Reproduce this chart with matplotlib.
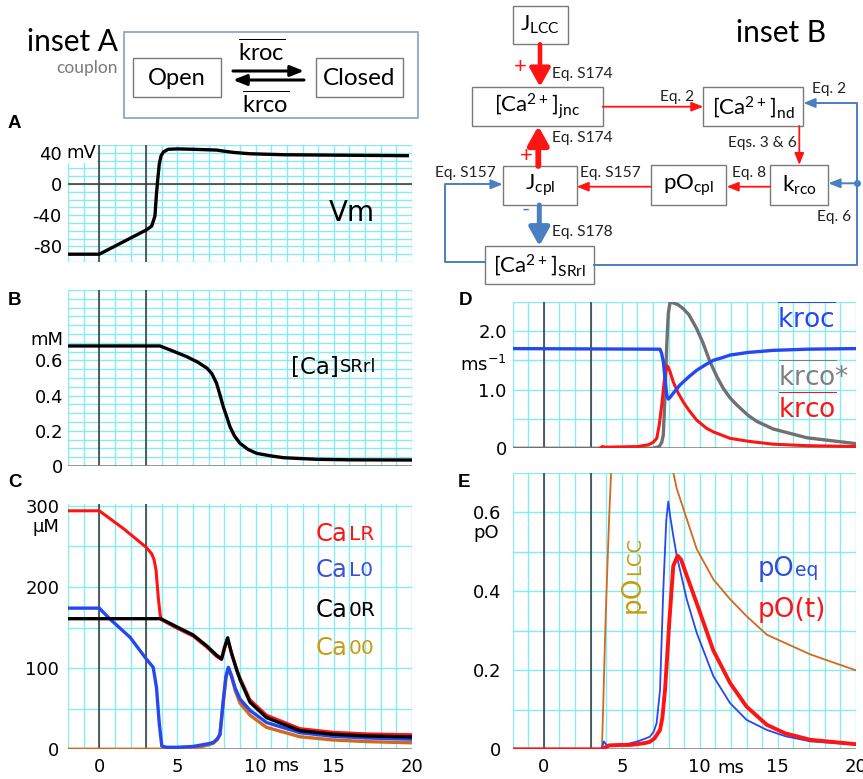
import numpy as np
import matplotlib
matplotlib.use("Agg")
import matplotlib.pyplot as plt
from matplotlib.transforms import blended_transform_factory

# ---------------- data ----------------
t_vm = [-2, 0, 1, 2, 3, 3.35, 3.56, 3.66, 3.75, 3.84, 3.95, 4.1, 4.4, 5.0, 6.0, 7.5, 8.0, 8.6, 9.6, 11.8, 15.0, 19.7]
vm = [-90, -90, -79.7, -69.3, -59, -54, -41, -12, 8, 26, 36, 41, 44.5, 45, 44.5, 43.5, 42, 40.5, 38.8, 37.5, 37, 36.3]

t_sr = [-2, 3.88, 4.8, 5.6, 6.3, 6.9, 7.2, 7.5, 7.7, 7.93, 8.15, 8.36, 8.65, 9.0, 9.5, 10.06, 11.0, 11.8, 13.9, 16, 20]
ca_srrl = [0.682, 0.682, 0.65, 0.621, 0.59, 0.555, 0.525, 0.47, 0.41, 0.337, 0.28, 0.223, 0.17, 0.129, 0.095,
           0.072, 0.057, 0.047, 0.038, 0.035, 0.034]

t_lr = [-2, 0, 1.55, 3.0, 3.35, 3.5, 3.63, 3.77, 3.88, 3.94, 5.0, 6.0, 6.9, 7.5, 7.82, 8.0, 8.2, 8.46, 8.8,
        9.0, 9.64, 10.7, 12.83, 14.96, 17.1, 20]
ca_lr = [294, 294, 272, 249, 241, 234, 221, 188, 168, 160, 149, 139.5, 125.5, 114.5, 110.5, 123, 136, 119, 98,
         88, 61, 42, 25.5, 21, 19, 18]

t_0r = [-2, 3.94, 5.0, 6.0, 6.9, 7.5, 7.82, 8.0, 8.21, 8.46, 8.8, 9.0, 9.64, 10.7, 12.83, 14.96, 17.1, 20]
ca_0r = [161, 161, 150.5, 141, 127, 116, 111.5, 125, 137.5, 118, 97, 86, 58, 39, 23, 18.5, 16.5, 15.2]

t_l0 = [-2, 0, 0.66, 1.97, 3.0, 3.45, 3.66, 3.84, 4.0, 4.3, 5.0, 6.0, 6.44, 7.0, 7.3, 7.55, 7.72, 7.93, 8.1,
        8.25, 8.45, 8.7, 9.0, 9.64, 10.7, 12.83, 14.96, 17.1, 20]
ca_l0 = [174, 174, 161, 138, 111.5, 101, 76, 31, 4, 2.5, 2.5, 3.5, 5, 7, 8.5, 13, 18.6, 60, 90, 101, 91, 75,
         62, 48, 33, 20.5, 16, 14, 12.4]

t_00 = [-2, 3.9, 4.3, 5.0, 6.0, 6.44, 7.0, 7.3, 7.55, 7.72, 7.93, 8.1, 8.28, 8.45, 8.7, 9.0, 9.64, 10.7,
        12.83, 14.96, 17.1, 20]
ca_00 = [0, 0, 0.5, 1, 2, 3, 5.5, 7.5, 12, 18, 58, 88, 100, 90, 72, 57, 42, 27, 15.5, 11.5, 9.5, 8]

t_kroc = [-2, 7.45, 7.55, 7.66, 7.77, 7.88, 7.98, 8.1, 8.3, 8.73, 9.3, 9.8, 10.4, 10.87, 11.5, 11.94, 13.11,
          14.7, 16.86, 20]
kroc = [1.70, 1.69, 1.62, 1.48, 1.2, 0.9, 0.84, 0.87, 0.94, 1.08, 1.22, 1.33, 1.43, 1.50, 1.55, 1.59, 1.635,
        1.67, 1.69, 1.70]

t_krs = [-2, 7.0, 7.4, 7.56, 7.66, 7.77, 7.88, 7.98, 8.09, 8.3, 8.6, 8.94, 9.3, 9.8, 10.2, 10.65, 11.1, 11.51,
         11.94, 12.37, 13.11, 13.65, 14.7, 16.86, 20]
krco_star = [0, 0, 0.03, 0.1, 0.23, 0.91, 1.76, 2.3, 2.49, 2.48, 2.45, 2.38, 2.28, 2.04, 1.8, 1.48, 1.22, 1.02,
             0.86, 0.74, 0.56, 0.46, 0.33, 0.18, 0.08]

t_krco = [3.6, 3.75, 3.9, 4.2, 6.0, 6.7, 7.0, 7.24, 7.4, 7.56, 7.72, 7.88, 7.98, 8.1, 8.3, 8.6, 8.94, 9.3,
          9.8, 10.44, 10.87, 11.94, 13.11, 14.7, 16.86, 20]
krco = [0, 0.03, 0.02, 0.02, 0.03, 0.06, 0.1, 0.17, 0.4, 0.74, 1.15, 1.41, 1.38, 1.3, 1.13, 0.95, 0.79, 0.65,
        0.48, 0.34, 0.28, 0.17, 0.12, 0.07, 0.045, 0.03]

t_lcc = [-2, 3.72, 3.8, 3.9, 4.0, 4.2, 4.4, 5, 6, 7, 8, 8.3, 8.52, 9.8, 10.87, 11.94, 13.0, 14.3, 17.1, 20]
po_lcc = [0, 0, 0.1, 0.25, 0.38, 0.6, 0.78, 1.1, 1.2, 1.0, 0.78, 0.7, 0.66, 0.507, 0.43, 0.38, 0.337, 0.29,
          0.24, 0.2]

t_eq = [-2, 3.7, 3.85, 4.0, 4.2, 5.0, 5.52, 6.0, 6.5, 6.8, 7.05, 7.23, 7.45, 7.66, 7.85, 7.98, 8.1, 8.3, 8.52,
        9.16, 9.8, 10.87, 11.94, 13.0, 14.3, 15.5, 17.1, 20]
po_eq = [0, 0, 0.02, 0.012, 0.01, 0.012, 0.015, 0.02, 0.027, 0.032, 0.045, 0.066, 0.15, 0.405, 0.58, 0.627,
         0.59, 0.54, 0.49, 0.38, 0.295, 0.185, 0.117, 0.0745, 0.049, 0.033, 0.02, 0.012]

t_pot = [-2, 3.7, 4.2, 5.0, 5.52, 6.0, 6.5, 6.8, 7.1, 7.45, 7.6, 7.77, 7.9, 8.04, 8.3, 8.58, 8.8, 9.16, 9.8,
         10.87, 11.94, 13.0, 14.3, 15.5, 17.1, 20]
po_t = [0, 0, 0.01, 0.011, 0.011, 0.013, 0.016, 0.019, 0.028, 0.049, 0.08, 0.15, 0.23, 0.32, 0.464, 0.49, 0.48,
        0.44, 0.37, 0.25, 0.168, 0.108, 0.062, 0.04, 0.024, 0.013]

x_ticks = [0, 5, 10, 15, 20]
x_ticklabels = ['0', '5', '10', '15', '20']
stim_lines = [0, 3]

# ---------------- style ----------------
W, H = 863, 779
CYAN = '#86ecf2'
RED = '#ff1414'
BLUE = '#2548f2'
GRAY = '#707070'
GOLD = '#c89b10'
ORANGE = '#d2691e'
IBLUE = '#4a7fc1'
BOXC = '#7a7a7a'
IFONT = ['Lato', 'DejaVu Sans']
TFS = 13

fig = plt.figure(figsize=(W / 100, H / 100), dpi=100)


def axes_px(x0, y0, x1, y1):
    return fig.add_axes([x0 / W, 1 - y1 / H, (x1 - x0) / W, (y1 - y0) / H])


def setup(ax, ylim, ystep, yt, ylab, pad, xlabels=False, bottom_line=True):
    ax.set_xlim(-2, 20)
    ax.set_ylim(*ylim)
    for s in ax.spines.values():
        s.set_visible(False)
    for xv in np.arange(-2, 20.5, 1):
        ax.axvline(xv, color=CYAN, lw=1.0, zorder=0)
    for yv in np.arange(ylim[0], ylim[1] + ystep * 0.5, ystep):
        ax.axhline(yv, color=CYAN, lw=1.0, zorder=0)
    for xv in stim_lines:
        ax.axvline(xv, color='#333333', lw=1.1, zorder=1)
    if bottom_line:
        ax.axhline(ylim[0], color='#7a7a7a', lw=1.8, zorder=1)
    ax.set_yticks(yt, ylab)
    ax.tick_params(axis='y', length=0, labelsize=TFS, pad=pad)
    if xlabels:
        ax.set_xticks(x_ticks, x_ticklabels)
        ax.tick_params(axis='x', length=0, labelsize=TFS, pad=6)
        tr = blended_transform_factory(ax.transData, ax.transAxes)
        ax.text(11.1, -0.068, 'ms', transform=tr, fontsize=TFS, ha='left', va='center')
    else:
        ax.set_xticks([])


def lab2(ax, x, y, big, small, color, bs, ss, transform=None):
    t1 = ax.text(x, y, big, color=color, fontsize=bs, ha='left', va='baseline',
                 transform=transform if transform is not None else ax.transAxes)
    ax.annotate(small, xy=(1, 0), xycoords=t1, xytext=(0.5, 1.3), textcoords='offset points',
                color=color, fontsize=ss, ha='left', va='bottom')
    return t1


# Panel A
axA = axes_px(68, 145, 412, 262)
setup(axA, (-100, 50), 10, [40, 0, -40, -80], ['40', '0', '-40', '-80'], 4.5, bottom_line=False)
axA.axhline(0, color='#333333', lw=1.1, zorder=1)
axA.plot(t_vm, vm, color='black', lw=2.4, zorder=3)

# Panel B
axB = axes_px(68, 290, 412, 466)
setup(axB, (0, 1.0), 0.05, [0, 0.2, 0.4, 0.6], ['0', '0.2', '0.4', '0.6'], 3.5)
axB.plot(t_sr, ca_srrl, color='black', lw=2.4, zorder=3)

# Panel C
axC = axes_px(68, 504.3, 412, 749.3)
setup(axC, (0, 302), 50, [0, 100, 200, 300], ['0', '100', '200', '300'], 6.3, xlabels=True)
axC.plot(t_00, ca_00, color=ORANGE, lw=2.4, zorder=3)
axC.plot(t_l0, ca_l0, color=BLUE, lw=2.4, zorder=4)
axC.plot(t_0r, ca_0r, color='black', lw=2.4, zorder=5)
axC.plot(t_lr, ca_lr, color=RED, lw=2.2, zorder=4.5)

# Panel D
axD = axes_px(512.7, 301.7, 855.7, 448.3)
setup(axD, (0, 2.5), 0.5, [0, 1.0, 2.0], ['0', '1.0', '2.0'], 4.3)
axD.plot(t_krs, krco_star, color=GRAY, lw=2.4, zorder=3)
axD.plot(t_krco, krco, color=RED, lw=2.2, zorder=4)
axD.plot(t_kroc, kroc, color=BLUE, lw=2.4, zorder=5)

# Panel E
axE = axes_px(512.7, 472.7, 855.7, 749.3)
setup(axE, (0, 0.7), 0.1, [0, 0.2, 0.4, 0.6], ['0', '0.2', '0.4', '0.6'], 8, xlabels=True)
axE.plot(t_lcc, po_lcc, color=ORANGE, lw=1.3, zorder=3)
axE.plot(t_eq, po_eq, color=BLUE, lw=1.3, zorder=4)
axE.plot(t_pot, po_t, color=RED, lw=2.8, zorder=5)

# ---------------- overlay (pixel coordinates) ----------------
ov = fig.add_axes([0, 0, 1, 1], zorder=20)
ov.set_xlim(0, W)
ov.set_ylim(H, 0)
ov.axis('off')
ov.patch.set_alpha(0)

# panel letters
for L, (x, y) in {'A': (8, 123), 'B': (8, 300), 'C': (8, 482), 'D': (459, 300), 'E': (458, 482)}.items():
    ov.text(x, y, L, fontsize=13.5, fontweight='bold', family='Liberation Sans', ha='left', va='center')

# unit labels
ov.text(66, 153, 'mV', fontsize=TFS, ha='left', va='center',
        bbox=dict(facecolor='white', edgecolor='none', pad=1.0))
ov.text(63, 340, 'mM', fontsize=TFS, ha='right', va='center')
ov.text(59.5, 527, 'µM', fontsize=TFS, ha='right', va='center')
ov.text(506.5, 365, r'$\mathregular{ms^{-1}}$', fontsize=TFS, ha='right', va='center')
ov.text(498.5, 533.5, 'pO', fontsize=TFS, ha='right', va='center')

# in-panel labels
ov.text(329, 213, 'Vm', fontsize=20, ha='left', va='center')
tca = ov.text(291, 373.5, '[Ca]', fontsize=16.5, ha='left', va='baseline')
ov.annotate('SRrl', xy=(1, 0), xycoords=tca, xytext=(0.8, 1.5), textcoords='offset points',
            fontsize=13, ha='left', va='bottom')

for (big, small, col, yb) in [('Ca', 'LR', RED, 540.7), ('Ca', 'L0', '#3a50d6', 577.3),
                              ('Ca', '0R', 'black', 616.7), ('Ca', '00', GOLD, 655)]:
    lab2(ov, 316, yb, big, small, col, 17.5, 14.5, transform=ov.transData)

ov.text(776.5, 328.3, r'$\overline{\mathregular{kroc}}$', fontsize=19, color=BLUE, ha='left', va='baseline')
ov.text(778, 386, r'$\overline{\mathregular{krco}}$*', fontsize=19, color='#808080', ha='left', va='baseline')
ov.text(778, 418.3, r'$\overline{\mathregular{krco}}$', fontsize=19, color=RED, ha='left', va='baseline')

lab2(ov, 758, 576, 'pO', 'eq', '#2f4fd8', 18.5, 13.5, transform=ov.transData)
ov.text(758, 616.7, 'pO(t)', fontsize=19, color=RED, ha='left', va='baseline')
tp = ov.text(640, 613, 'pO', fontsize=19, color=GOLD, rotation=90, rotation_mode='anchor',
             ha='left', va='baseline')
ov.annotate('LCC', xy=(1, 1), xycoords=tp, xytext=(-1.3, 0.5), textcoords='offset points',
            fontsize=14, color=GOLD, rotation=90, rotation_mode='anchor', ha='left', va='bottom')

# ---------------- inset A ----------------
ov.text(118, 42, 'inset A', fontsize=21.5, family=IFONT, ha='right', va='center')
ov.text(118, 68, 'couplon', fontsize=12.5, family=IFONT, color='#7a7a7a', ha='right', va='center')


def box(x0, y0, x1, y1, ec=BOXC, lw=1.0):
    ov.add_patch(plt.Rectangle((x0, y0), x1 - x0, y1 - y0, fill=False, ec=ec, lw=lw))


box(124, 32, 418, 118, ec='#93a6c8', lw=1.3)
box(133, 58, 221, 97)
box(316, 58, 403, 97)
ov.text(177, 78, 'Open', fontsize=17, family=IFONT, ha='center', va='center')
ov.text(359.5, 78, 'Closed', fontsize=17.5, family=IFONT, ha='center', va='center')


def arrow(x0, y0, x1, y1, color, lw, hl=0.5, hw=0.25, ms=20):
    ov.annotate('', xy=(x1, y1), xytext=(x0, y0),
                arrowprops=dict(arrowstyle=f'-|>,head_length={hl},head_width={hw}', color=color, lw=lw,
                                shrinkA=0, shrinkB=0, mutation_scale=ms))


arrow(233, 71, 304, 71, 'black', 2.2, 0.5, 0.2, 16)
arrow(304, 80, 233, 80, 'black', 2.2, 0.5, 0.2, 16)
ov.text(262, 52, r'$\overline{\mathregular{kroc}}$', fontsize=17, family=IFONT, ha='center', va='center')
ov.text(266, 104, r'$\overline{\mathregular{krco}}$', fontsize=17, family=IFONT, ha='center', va='center')

# ---------------- inset B ----------------
ov.text(781.5, 33, 'inset B', fontsize=21.5, family=IFONT, ha='center', va='center')
BFS = 16
EFS = 11.2
box(512.7, 6, 568.3, 44.3)
ov.text(540.5, 25, r'$\mathregular{J_{LCC}}$', fontsize=BFS, family=IFONT, ha='center', va='center')
box(472.3, 86.7, 602.7, 126)
ov.text(537.5, 106.3, r'$\mathregular{[Ca^{2+}]_{jnc}}$', fontsize=BFS, family=IFONT, ha='center', va='center')
box(703.3, 87.3, 803.3, 126)
ov.text(753.3, 106.7, r'$\mathregular{[Ca^{2+}]_{nd}}$', fontsize=BFS, family=IFONT, ha='center', va='center')
box(770, 165, 828.3, 205)
ov.text(799, 185, r'$\mathregular{k_{rco}}$', fontsize=BFS, family=IFONT, ha='center', va='center')
box(650.7, 165, 726, 205)
ov.text(688.3, 185, r'$\mathregular{pO_{cpl}}$', fontsize=BFS, family=IFONT, ha='center', va='center')
box(502.7, 166, 576.7, 205)
ov.text(539.7, 185.5, r'$\mathregular{J_{cpl}}$', fontsize=BFS, family=IFONT, ha='center', va='center')
box(485, 246, 594, 284)
ov.text(539.5, 265, r'$\mathregular{[Ca^{2+}]_{SRrl}}$', fontsize=BFS, family=IFONT, ha='center', va='center')

# thick arrows
arrow(540, 44.3, 540, 86.7, RED, 3.3, 0.5, 0.28, 22)
arrow(538.3, 166, 538.3, 126, RED, 4.2, 0.5, 0.28, 22)
arrow(539.3, 205, 539.3, 246, IBLUE, 3.6, 0.5, 0.28, 22)
ov.text(520, 67, '+', fontsize=16, color=RED, family=IFONT, ha='center', va='center')
ov.text(526.7, 156, '+', fontsize=16, color=RED, family=IFONT, ha='center', va='center')
ov.text(526, 210, '-', fontsize=16, color=IBLUE, family=IFONT, ha='center', va='center')

# thin red arrows
arrow(602.7, 106.7, 703.3, 106.7, RED, 1.3, 0.5, 0.2, 14)
arrow(799.3, 126, 799.3, 165, RED, 1.3, 0.5, 0.2, 14)
arrow(770, 186.7, 726.7, 186.7, RED, 1.3, 0.5, 0.2, 14)
arrow(650.7, 186.7, 576.7, 186.7, RED, 1.3, 0.5, 0.2, 14)

# blue feedback lines
ov.plot([594, 856.7, 856.7, 820], [265, 265, 103, 103], color=IBLUE, lw=1.4)
arrow(820, 103, 803.3, 103, IBLUE, 1.4, 0.5, 0.2, 14)
arrow(856.7, 183.3, 828.3, 183.3, IBLUE, 1.4, 0.5, 0.2, 14)
ov.plot([856.7], [183.3], 'o', color=IBLUE, ms=4)
ov.plot([485, 445, 445, 490], [261.7, 261.7, 184.3, 184.3], color=IBLUE, lw=1.4)
arrow(490, 184.3, 502.7, 184.3, IBLUE, 1.4, 0.5, 0.2, 14)

# equation labels
eqs = [(551.7, 74, 'Eq. S174', 'left'), (551.7, 138.3, 'Eq. S174', 'left'), (551.7, 231.7, 'Eq. S178', 'left'),
       (677.5, 96.7, 'Eq. 2', 'center'), (811.7, 89.3, 'Eq. 2', 'left'), (796.7, 143.3, 'Eqs. 3 & 6', 'right'),
       (816.7, 216.7, 'Eq. 6', 'left'), (749.2, 173.3, 'Eq. 8', 'center'), (610.8, 173.3, 'Eq. S157', 'center'),
       (496, 173.3, 'Eq. S157', 'right')]
for x, y, s, ha in eqs:
    ov.text(x, y, s, fontsize=EFS, family=IFONT, ha=ha, va='center', color='#222222')

fig.savefig('out.png', dpi=100)
